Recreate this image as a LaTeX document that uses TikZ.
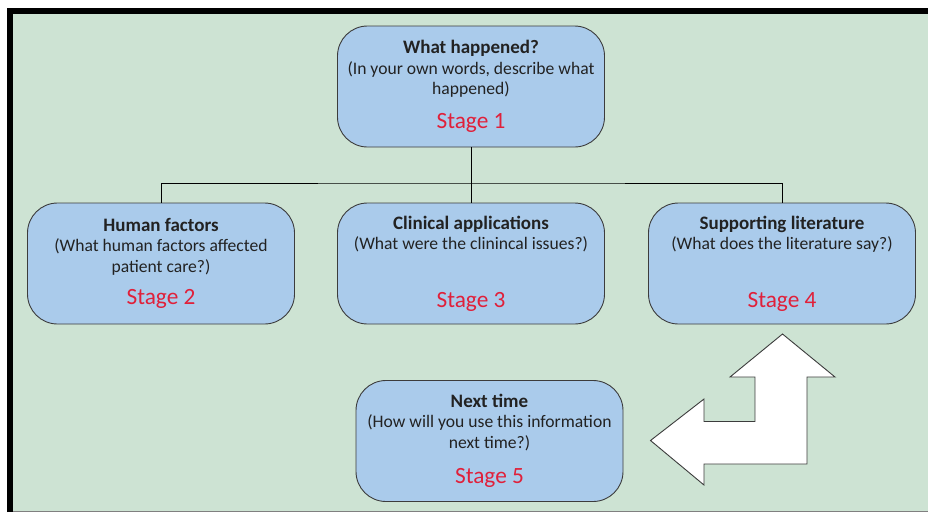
\documentclass[tikz,border=0pt]{standalone}
\usepackage{fontspec}
\setmainfont{Carlito}
\definecolor{bggreen}{HTML}{CDE3D3}
\definecolor{boxblue}{HTML}{AACBEB}
\definecolor{boxline}{HTML}{3C3C3C}
\definecolor{stagered}{HTML}{E0203A}
\definecolor{txtdark}{HTML}{222222}
\tikzset{
	stagebox/.style={draw=boxline,fill=boxblue,line width=0.9pt,rounded corners=30pt,
		minimum width=267pt,minimum height=121pt,align=center,text=txtdark,
		font=\fontsize{17.6}{20.5}\selectfont},
	link/.style={draw=black,line width=1pt},
}
\newcommand{\stagetitle}[1]{{\fontsize{19}{20.5}\selectfont\bfseries #1}}
\newcommand{\stagetxt}[1]{{\color{stagered}\fontsize{23.3}{24}\selectfont Stage #1}}
\begin{document}
\begin{tikzpicture}[x=1pt,y=-1pt]
	\useasboundingbox (0,0) rectangle (928,512);

	% Background and frame
	\fill[bggreen] (10,11) rectangle (928,511);
	\draw[gray,line width=1.5pt] (10,511.25) -- (928,511.25);
	\draw[black,line width=6pt] (10,512) -- (10,11) -- (928,11);

	% Stages
	\node[stagebox] (s1) at (471,86.5) {\stagetitle{What happened?}\\(In your own words, describe what\\happened)\\[13pt]\stagetxt{1}};
	\node[stagebox] (s2) at (161,263.5) {\stagetitle{Human factors}\\(What human factors affected\\patient care?)\\[12pt]\stagetxt{2}};
	\node[stagebox] (s3) at (471,263.5) {\stagetitle{Clinical applications}\\(What were the clinincal issues?)\\[37pt]\stagetxt{3}};
	\node[stagebox] (s4) at (782,263.5) {\stagetitle{Supporting literature}\\(What does the literature say?)\\[37pt]\stagetxt{4}};
	\node[stagebox] (s5) at (489.5,441) {\stagetitle{Next time}\\(How will you use this information\\next time?)\\[15pt]\stagetxt{5}};

	% Tree connectors
	\coordinate (split) at (471,183);
	\draw[link] (s1.south) -- (split);
	\draw[link] (split) -- (s3.north);
	\draw[link] (s2.north) |- (split) -| (s4.north);

	% Bent arrow back to stage 4
	\draw[boxline,fill=white,line width=0.9pt,line join=miter]
		(782.5,334) -- (835,377) -- (807,377) -- (807,464) -- (704,464)
		-- (704,485) -- (650.5,440.5) -- (704,399) -- (704,421.5)
		-- (755,421.5) -- (755,377) -- (730,377) -- cycle;

\end{tikzpicture}
\end{document}
